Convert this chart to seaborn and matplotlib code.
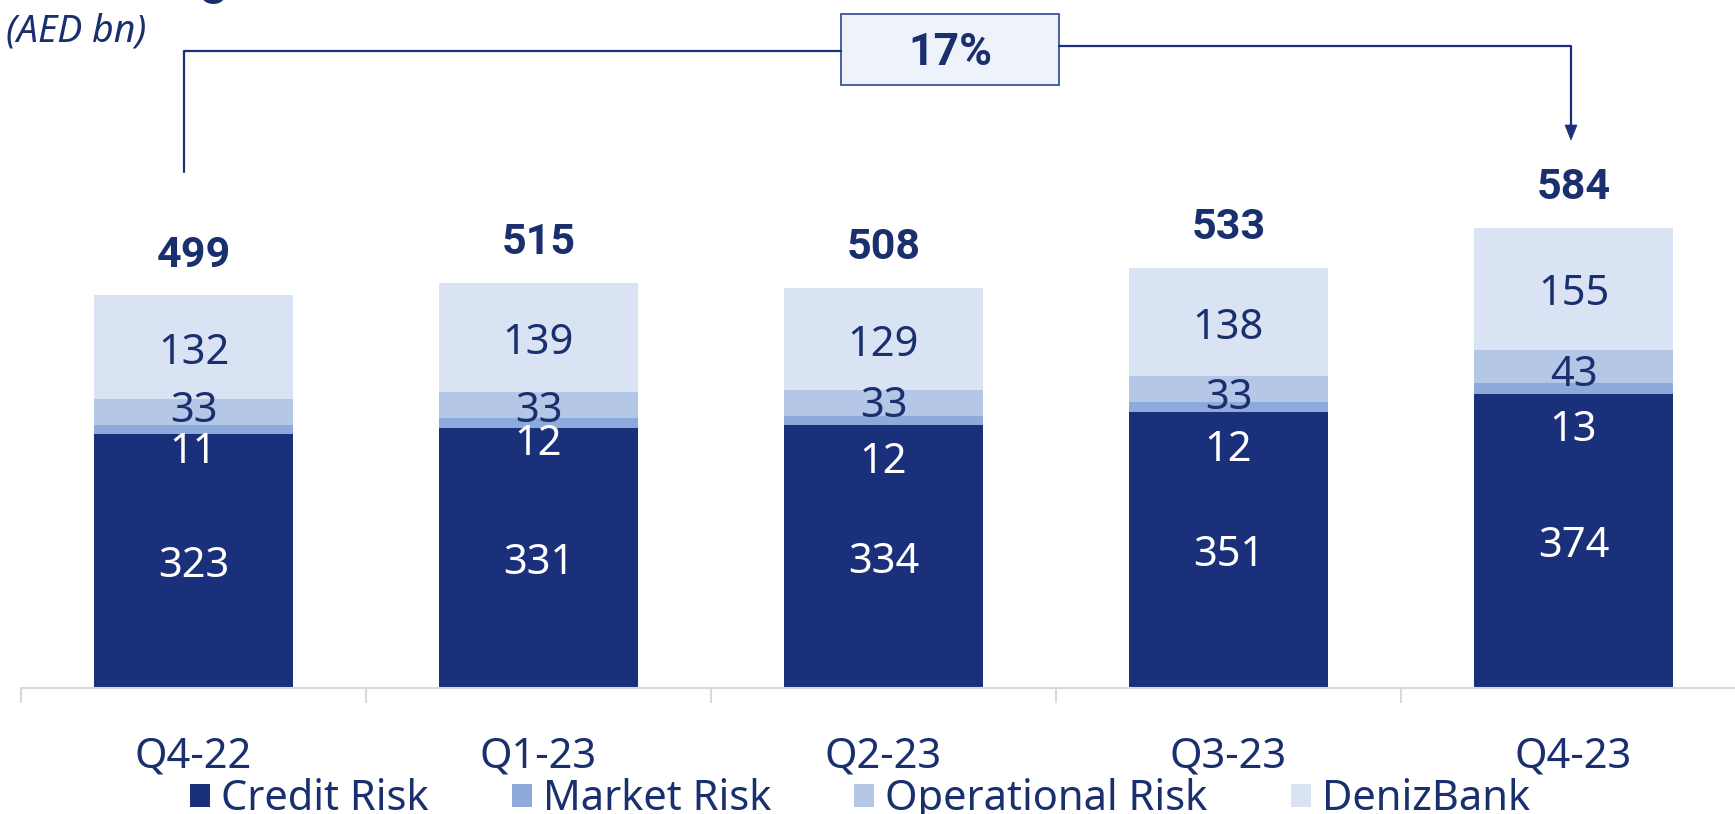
import matplotlib
matplotlib.use('Agg')
import matplotlib.pyplot as plt
import seaborn as sns
import pandas as pd
from matplotlib.patches import Rectangle, Patch, Polygon
from matplotlib.lines import Line2D

# ---- data ----
quarters = ['Q4-22', 'Q1-23', 'Q2-23', 'Q3-23', 'Q4-23']
credit_risk = [323, 331, 334, 351, 374]
market_risk = [11, 12, 12, 12, 13]
operational_risk = [33, 33, 33, 33, 43]
denizbank = [132, 139, 129, 138, 155]
totals = [499, 515, 508, 533, 584]
growth_label = '17%'
series_names = ['Credit Risk', 'Market Risk', 'Operational Risk', 'DenizBank']
unit_label = '(AED bn)'
title_text = 'Risk Weighted Assets'

# ---- style ----
W, H = 1735, 814
sns.set_theme(style='white')
plt.rcParams['font.family'] = ['Noto Sans', 'DejaVu Sans']
BOLD = ['Roboto', 'DejaVu Sans']
NAVY = '#1B307B'
TXT = '#1A2F6E'
colors = ['#1B307B', '#8EAADB', '#B4C7E7', '#DAE3F3']
market_dy_pt = [-12, -11.5, -26, -27, -26]   # manual label nudges (points)
oper_dy_pt = [4.5, 0, 1.5, -2, -2]
seg_shift = -4

df = pd.DataFrame({'quarter': quarters, 'Credit Risk': credit_risk,
                   'Market Risk': market_risk, 'Operational Risk': operational_risk,
                   'DenizBank': denizbank})
cum = df[series_names].cumsum(axis=1)

fig = plt.figure(figsize=(W / 100, H / 100), dpi=100)
ax = fig.add_axes([21 / W, 126 / H, 1725 / W, 688 / H])

for name, color in reversed(list(zip(series_names, colors))):
    sns.barplot(x=df['quarter'], y=cum[name], color=color, saturation=1,
                width=0.574, errorbar=None, order=quarters, linewidth=0, ax=ax)

ax.set_xlim(-0.5, 4.5)
ax.set_ylim(0, 688 / 0.787)
ax.set_xlabel('')
ax.set_ylabel('')
ax.set_yticks([])
for s in ['top', 'right', 'left']:
    ax.spines[s].set_visible(False)
ax.spines['bottom'].set_color('#D9D9D9')
ax.spines['bottom'].set_linewidth(1.5)
ax.set_xticks(range(len(quarters)))
ax.set_xticklabels(quarters, fontsize=30, color=TXT)
ax.set_xticks([i - 0.5 for i in range(len(quarters) + 1)], minor=True)
ax.tick_params(axis='x', which='major', length=0, pad=34)
ax.tick_params(axis='x', which='minor', length=11, width=1.5, color='#D9D9D9', bottom=True)

seg_fs = 30
for i in range(len(quarters)):
    c = credit_risk[i]; m = market_risk[i]; o = operational_risk[i]; d = denizbank[i]
    ax.annotate(str(c), (i, c / 2), xytext=(0, seg_shift), textcoords='offset points',
                ha='center', va='center', fontsize=seg_fs, color='white')
    ax.annotate(str(m), (i, c + m / 2), xytext=(0, market_dy_pt[i] + seg_shift), textcoords='offset points',
                ha='center', va='center', fontsize=seg_fs, color='white')
    ax.annotate(str(o), (i, c + m + o / 2), xytext=(0, oper_dy_pt[i] + seg_shift), textcoords='offset points',
                ha='center', va='center', fontsize=seg_fs, color=TXT)
    ax.annotate(str(d), (i, c + m + o + d / 2), xytext=(0, seg_shift), textcoords='offset points',
                ha='center', va='center', fontsize=seg_fs, color=TXT)
    ax.annotate(str(totals[i]), (i, c + m + o + d), xytext=(0, 29), textcoords='offset points',
                ha='center', va='center', fontsize=31, fontweight='bold', family=BOLD, color=TXT)

# ---- bracket / growth annotation (figure pixel coords) ----
def P(x, y):
    return (x / W, 1 - y / H)

fx = lambda x: x / W
fy = lambda y: 1 - y / H
fig.add_artist(Line2D([fx(184), fx(184), fx(841)], [fy(171.5), fy(51), fy(51)],
                      color=NAVY, lw=1.6, transform=fig.transFigure))
fig.add_artist(Line2D([fx(1059), fx(1571), fx(1571)], [fy(46), fy(46), fy(127)],
                      color=NAVY, lw=1.6, transform=fig.transFigure))
fig.add_artist(Polygon([P(1565, 125), P(1577, 125), P(1571, 140)], closed=True,
                       facecolor=NAVY, edgecolor=NAVY, lw=0.5, transform=fig.transFigure))
fig.add_artist(Rectangle(P(841, 85), 218 / W, 71 / H, facecolor='#EEF2FA',
                         edgecolor='#3A5499', lw=1.3, transform=fig.transFigure))
fig.text(fx(950), fy(53), growth_label, ha='center', va='center', fontsize=32,
         fontweight='bold', family=BOLD, color=TXT)

fig.text(fx(6), fy(31), unit_label, ha='left', va='center', fontsize=27,
         style='italic', color=TXT)
fig.text(fx(6), fy(-5.5), title_text, ha='left', va='baseline', fontsize=36,
         fontweight='bold', family=BOLD, color=TXT)

# ---- legend ----
handles = [Patch(facecolor=col, edgecolor='none', label=n) for n, col in zip(series_names, colors)]
fig.legend(handles=handles, loc='center', bbox_to_anchor=(860 / W, fy(799)), ncol=4,
           frameon=False, fontsize=30, handlelength=0.48, handleheight=0.48,
           handletextpad=0.26, columnspacing=2.0, labelcolor=TXT, borderpad=0, borderaxespad=0)

fig.savefig('out.png', dpi=100)
